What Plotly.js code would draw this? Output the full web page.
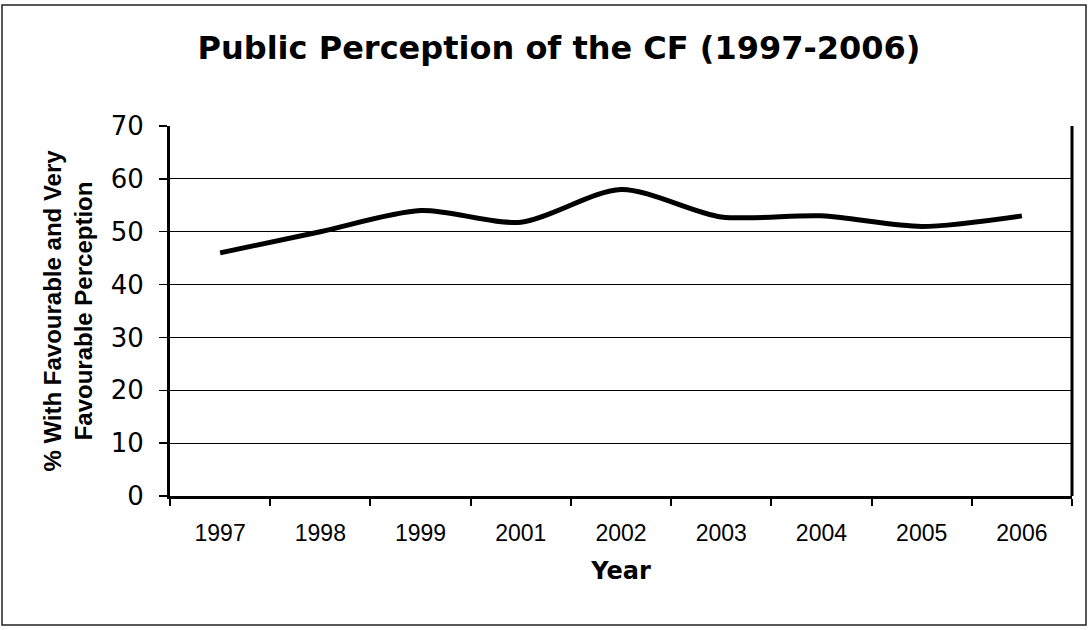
<!DOCTYPE html>
<html>
<head>
<meta charset="utf-8">
<script src="https://cdn.plot.ly/plotly-3.0.1.min.js"></script>
<style>
html,body{margin:0;padding:0;background:#fff;}
#chart{width:1089px;height:630px;}
</style>
</head>
<body>
<div id="chart"></div>
<script>
const chartTitle = 'Public Perception of the CF (1997-2006)';
const years = ['1997','1998','1999','2001','2002','2003','2004','2005','2006'];
const pctFavourable = [46, 50, 54, 51.8, 58, 52.8, 53, 51, 53];
const yTicks = [0, 10, 20, 30, 40, 50, 60, 70];
const xTitle = 'Year';
const yTitle = '% With Favourable and Very<br>Favourable Perception';

const L = 170, R = 17, T = 126, B = 134;
const W = 1089 - L - R, H = 630 - T - B;
const px = v => (v - L) / W;
const py = v => 1 - (v - T) / H;

const trace = {
  x: years,
  y: pctFavourable,
  type: 'scatter',
  mode: 'lines',
  line: {color: '#000', width: 5, shape: 'spline', smoothing: 0.8},
  hoverinfo: 'x+y'
};

const layout = {
  width: 1089, height: 630,
  margin: {l: L, r: R, t: T, b: B, pad: 0},
  paper_bgcolor: '#fff', plot_bgcolor: '#fff',
  showlegend: false,
  title: {
    text: chartTitle,
    font: {family: 'DejaVu Sans', size: 32, color: '#000', weight: 'bold'},
    x: 559 / 1089, xanchor: 'center', y: 1 - 48 / 630, yanchor: 'middle'
  },
  xaxis: {
    type: 'category',
    range: [-0.5, years.length - 0.5],
    tickson: 'boundaries',
    ticks: 'outside', ticklen: 7, tickwidth: 2, tickcolor: '#000',
    showline: true, linecolor: '#000', linewidth: 3,
    showgrid: false, zeroline: false,
    tickfont: {family: 'Liberation Sans', size: 23, color: '#000'},
    ticklabelstandoff: 14,
    title: {text: xTitle, font: {family: 'DejaVu Sans', size: 24, color: '#000', weight: 'bold'}, standoff: 18}
  },
  yaxis: {
    range: [0, 70],
    tickvals: yTicks,
    ticks: 'outside', ticklen: 8, tickwidth: 1.5, tickcolor: '#000',
    showline: true, linecolor: '#000', linewidth: 3,
    showgrid: true, gridcolor: '#000', gridwidth: 1.2,
    zeroline: false,
    tickfont: {family: 'DejaVu Sans', size: 26, color: '#000'},
    ticklabelstandoff: 10,
    title: {text: yTitle, font: {family: 'Liberation Sans', size: 24, color: '#000', weight: 'bold'}, standoff: 12}
  },
  shapes: [
    {type: 'line', xref: 'paper', yref: 'paper', x0: 1, x1: 1, y0: 0, y1: 1, line: {color: '#000', width: 3}},
    {type: 'rect', xref: 'paper', yref: 'paper', x0: px(2), x1: px(1086), y0: py(625), y1: py(5), line: {color: '#222', width: 1.5}, fillcolor: 'rgba(0,0,0,0)'}
  ]
};

Plotly.newPlot('chart', [trace], layout, {displayModeBar: false, staticPlot: true});
</script>
</body>
</html>
